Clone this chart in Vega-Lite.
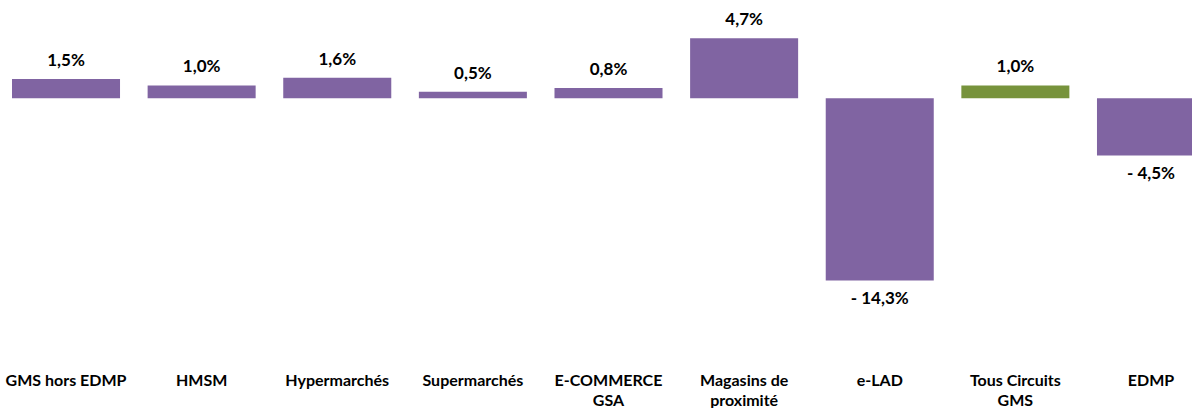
{
  "$schema": "https://vega.github.io/schema/vega-lite/v6.json",
  "width": 1217,
  "height": 366,
  "padding": {"left": 0, "top": 0, "right": 0, "bottom": 42},
  "autosize": {"type": "none"},
  "background": "white",
  "config": {"view": {"stroke": null}, "font": "Lato"},
  "data": {
    "values": [
      {"circuit": "GMS hors EDMP", "value": 1.5, "label": "1,5%", "grp": "circuit"},
      {"circuit": "HMSM", "value": 1.0, "label": "1,0%", "grp": "circuit"},
      {"circuit": "Hypermarchés", "value": 1.6, "label": "1,6%", "grp": "circuit"},
      {"circuit": "Supermarchés", "value": 0.5, "label": "0,5%", "grp": "circuit"},
      {"circuit": "E-COMMERCE GSA", "value": 0.8, "label": "0,8%", "grp": "circuit"},
      {"circuit": "Magasins de proximité", "value": 4.7, "label": "4,7%", "grp": "circuit"},
      {"circuit": "e-LAD", "value": -14.3, "label": "- 14,3%", "grp": "circuit"},
      {"circuit": "Tous Circuits GMS", "value": 1.0, "label": "1,0%", "grp": "total"},
      {"circuit": "EDMP", "value": -4.5, "label": "- 4,5%", "grp": "circuit"}
    ]
  },
  "encoding": {
    "x": {
      "field": "circuit", "type": "nominal", "sort": null,
      "scale": {"paddingInner": 0.2035, "paddingOuter": 0.0885},
      "axis": {
        "title": null, "domain": false, "ticks": false, "labelAngle": 0,
        "labelFont": "Lato", "labelFontSize": 16, "labelFontWeight": "bold", "labelColor": "#000000",
        "labelPadding": 6, "labelLineHeight": 20, "labelLimit": 0,
        "labelExpr": "datum.value == 'E-COMMERCE GSA' ? ['E-COMMERCE', 'GSA'] : datum.value == 'Magasins de proximité' ? ['Magasins de', 'proximité'] : datum.value == 'Tous Circuits GMS' ? ['Tous Circuits', 'GMS'] : datum.value"
      }
    },
    "y": {
      "field": "value", "type": "quantitative",
      "scale": {"domain": [-21, 7.7], "nice": false, "zero": true},
      "axis": null
    }
  },
  "layer": [
    {
      "mark": {"type": "bar"},
      "encoding": {
        "y2": {"datum": 0},
        "color": {"field": "grp", "type": "nominal", "scale": {"domain": ["circuit", "total"], "range": ["#8064A2", "#77933C"]}, "legend": null}
      }
    },
    {
      "transform": [{"filter": "datum.value >= 0"}],
      "mark": {"type": "text", "baseline": "bottom", "dy": -9, "fontSize": 17, "fontWeight": "bold", "color": "#000000", "font": "Lato"},
      "encoding": {"text": {"field": "label"}}
    },
    {
      "transform": [{"filter": "datum.value < 0"}],
      "mark": {"type": "text", "baseline": "top", "dy": 10, "fontSize": 17, "fontWeight": "bold", "color": "#000000", "font": "Lato"},
      "encoding": {"text": {"field": "label"}}
    }
  ]
}
